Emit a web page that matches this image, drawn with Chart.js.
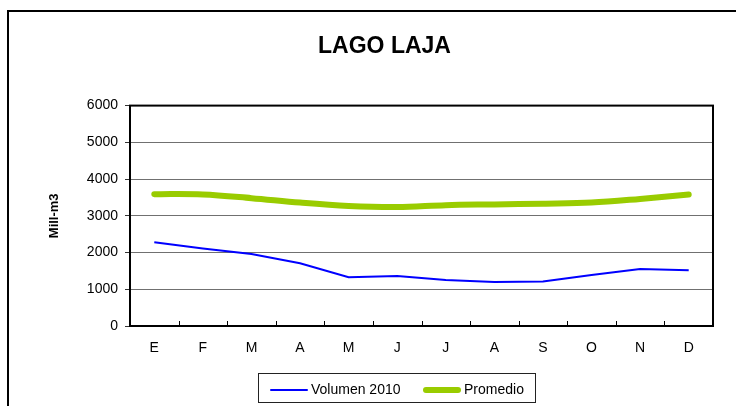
<!DOCTYPE html>
<html>
<head>
<meta charset="utf-8">
<script src="https://cdn.jsdelivr.net/npm/chart.js@4.4.1/dist/chart.umd.min.js"></script>
<style>
  html, body { margin: 0; padding: 0; background: #fff; overflow: hidden; }
  #wrap { position: relative; width: 736px; height: 406px; }
  #frame { position: absolute; left: 7px; top: 10px; width: 800px; height: 500px; border: 2px solid #000; box-sizing: border-box; }
  #chart { position: absolute; left: 0; top: 0; }
  #legend { position: absolute; left: 258px; top: 373px; width: 278px; height: 30px; border: 1px solid #222; box-sizing: border-box;
            font-family: "Liberation Sans", Arial, sans-serif; font-size: 14px; color: #000; }
  .item { position: absolute; top: 6px; height: 18px; line-height: 18px; white-space: nowrap; }
  .swatch { display: inline-block; vertical-align: middle; margin-right: 3px; }
</style>
</head>
<body>
<div id="wrap">
  <div id="frame"></div>
  <canvas id="chart" width="736" height="406"></canvas>
  <div id="legend"></div>
</div>
<script>
// data
var months = ['E','F','M','A','M','J','J','A','S','O','N','D'];
var volumen2010 = [2280, 2110, 1960, 1710, 1330, 1360, 1250, 1200, 1210, 1390, 1550, 1520];
var promedio = [3590, 3580, 3480, 3360, 3270, 3240, 3290, 3310, 3330, 3360, 3460, 3580];
var yTicks = [0, 1000, 2000, 3000, 4000, 5000, 6000];

const FONT = '"Liberation Sans", Arial, sans-serif';

// black frame round the plot plus short tick marks between months
const plotFrame = {
  id: 'plotFrame',
  afterDatasetsDraw(chart){
    const ctx = chart.ctx;
    const a = chart.chartArea;
    const x = chart.scales.x;
    ctx.save();
    ctx.strokeStyle = '#000';
    ctx.lineWidth = 1;
    for(let i=1;i<months.length;i++){
      const px = Math.round((x.getPixelForValue(i-1) + x.getPixelForValue(i))/2) + 0.5;
      ctx.beginPath();
      ctx.moveTo(px, a.bottom);
      ctx.lineTo(px, a.bottom-5);
      ctx.stroke();
    }
    ctx.lineWidth = 2;
    ctx.strokeRect(a.left, a.top, a.right-a.left, a.bottom-a.top);
    ctx.restore();
  }
};

var ctx = document.getElementById('chart').getContext('2d');
var myChart = new Chart(ctx, {
  type: 'line',
  data: {
    labels: months,
    datasets: [{
      label: 'Volumen 2010',
      data: volumen2010,
      borderColor: '#0000ff',
      backgroundColor: '#0000ff',
      borderWidth: 2,
      pointRadius: 0,
      tension: 0
    },{
      label: 'Promedio',
      data: promedio,
      borderColor: '#99cc00',
      backgroundColor: '#99cc00',
      borderWidth: 6,
      borderCapStyle: 'round',
      pointRadius: 0,
      tension: 0.35
    }]
  },
  options: {
    responsive: false,
    animation: false,
    layout: { padding: { left: 56, right: 23, top: 0, bottom: 50 } },
    plugins: {
      legend: { display: false },
      tooltip: { enabled: false },
      title: {
        display: true,
        text: 'LAGO LAJA',
        color: '#000',
        font: { family: FONT, size: 23, weight: 'bold' },
        padding: { top: 33, bottom: 45 }
      }
    },
    scales: {
      x: {
        offset: true,
        grid: { display: false, drawTicks: false },
        border: { display: true, color: '#000', width: 2 },
        ticks: { color: '#000', padding: 14, font: { family: FONT, size: 14 }, maxRotation: 0 },
        afterFit: function(scale){ scale.height = 30; }
      },
      y: {
        min: 0,
        max: 6000,
        afterBuildTicks: function(scale){ scale.ticks = yTicks.map(v => ({value: v})); },
        grid: { color: '#707070', lineWidth: 1, tickLength: 5, tickColor: '#333' },
        border: { display: true, color: '#000', width: 2 },
        ticks: { color: '#000', padding: 7, font: { family: FONT, size: 14 },
                 callback: function(v){ return String(v); } },
        title: {
          display: true,
          text: 'Mill-m3',
          color: '#000',
          font: { family: FONT, size: 13, weight: 'bold' },
          padding: { top: -9, bottom: 0 }
        },
        afterFit: function(scale){ scale.width = 74; }
      }
    }
  },
  plugins: [plotFrame]
});

// legend box under the chart, built from the dataset styles
var legend = document.getElementById('legend');
var itemLeft = [11, 164];
myChart.data.datasets.forEach(function(ds, i){
  var h = ds.borderWidth;
  legend.insertAdjacentHTML('beforeend',
    `<div class="item" style="left:${itemLeft[i]}px">
       <span class="swatch" style="width:38px;height:${h}px;background:${ds.borderColor};border-radius:${h/2}px"></span>${ds.label}
     </div>`);
});
</script>
</body>
</html>
